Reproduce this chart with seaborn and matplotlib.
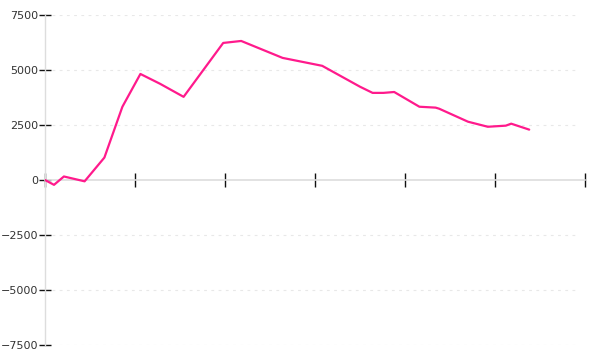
import matplotlib
matplotlib.use("Agg")
import matplotlib.pyplot as plt
import seaborn as sns
import pandas as pd

x_vals = [0, 0.5, 1.05, 2.2, 3.3, 4.3, 5.3, 6.4, 7.7, 9.9, 10.9, 13.2, 15.4, 17.5,
          18.2, 18.8, 19.4, 20.8, 21.7, 21.9, 23.5, 24.6, 25.6, 25.9, 26.9]
y_vals = [0, -220, 160, -60, 1020, 3330, 4820, 4370, 3780, 6230, 6320, 5550, 5190, 4240,
          3960, 3960, 4000, 3330, 3290, 3240, 2650, 2420, 2470, 2560, 2290]
y_ticks = [-7500, -5000, -2500, 0, 2500, 5000, 7500]
x_ticks = [0, 5, 10, 15, 20, 25, 30]

df = pd.DataFrame({"x": x_vals, "y": y_vals})

sns.set_style("white")
plt.rcParams['font.family'] = ['DejaVu Sans']

fig = plt.figure(figsize=(6, 3.6), dpi=100)
ax = fig.add_axes([45/600, 15/360, 540/600, 330/360])

sns.lineplot(data=df, x="x", y="y", ax=ax, color="#ff1a8c", linewidth=1.6, zorder=5)

ax.set_xlim(0, 30)
ax.set_ylim(-7500, 7500)
ax.set_xticks(x_ticks)
ax.set_xticklabels([])
ax.set_yticks(y_ticks)
ax.set_yticklabels([str(v).replace("-", "\u2212") for v in y_ticks])
ax.set_xlabel("")
ax.set_ylabel("")

for yv in y_ticks:
    if yv != 0:
        ax.plot([0.4, 29.5], [yv, yv], color="#e8e8e8", linewidth=0.8,
                linestyle=(0, (2.5, 4)), zorder=0)

for s in ["top", "right"]:
    ax.spines[s].set_visible(False)
ax.spines["left"].set_color("#dddddd")
ax.spines["left"].set_linewidth(1)
ax.spines["bottom"].set_position(("data", 0))
ax.spines["bottom"].set_color("#dddddd")
ax.spines["bottom"].set_linewidth(1.2)

ax.tick_params(axis="y", left=True, direction="inout", length=8, width=1, color="#111111",
               labelsize=8, labelcolor="#333333", pad=1)
ax.tick_params(axis="x", bottom=True, direction="inout", length=10, width=1, color="#111111")

fig.savefig("out.png", dpi=100)
